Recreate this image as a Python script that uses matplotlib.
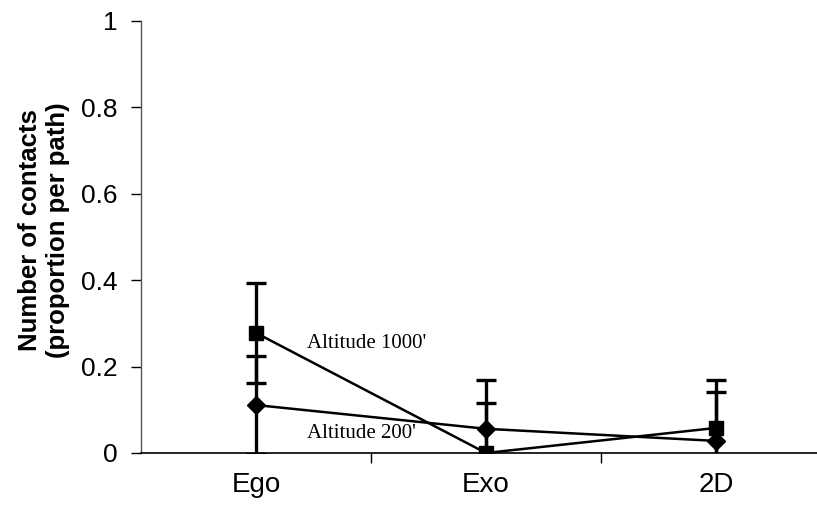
import matplotlib
matplotlib.use("Agg")
import matplotlib.pyplot as plt
from matplotlib.ticker import FixedLocator, FuncFormatter

plt.rcParams["font.family"] = ["Liberation Sans", "DejaVu Sans"]

categories = ["Ego", "Exo", "2D"]
alt1000 = [0.278, 0.0, 0.058]
alt1000_err = [0.115, 0.116, 0.111]
alt200 = [0.111, 0.056, 0.028]
alt200_err = [0.113, 0.113, 0.113]
yticks = [0, 0.2, 0.4, 0.6, 0.8, 1.0]

fig = plt.figure(figsize=(8.17, 5.21), dpi=100)
ax = fig.add_axes([141/817, 68/521, 690/817, 432/521])
x = list(range(len(categories)))

ax.errorbar(x, alt1000, yerr=alt1000_err, color="black", lw=1.8, elinewidth=2.4,
            capsize=7, capthick=2.4, marker="s", ms=9.5, zorder=3, clip_on=True)
ax.errorbar(x, alt200, yerr=alt200_err, color="black", lw=1.8, elinewidth=2.4,
            capsize=7, capthick=2.4, marker="D", ms=9, zorder=3, clip_on=True)

ax.set_xlim(-0.5, 2.5)
ax.set_ylim(0, 1)
ax.spines["top"].set_visible(False)
ax.spines["right"].set_visible(False)
ax.spines["left"].set_color("#555555")
ax.spines["left"].set_linewidth(1.0)
ax.spines["bottom"].set_linewidth(1.2)

ax.yaxis.set_major_locator(FixedLocator(yticks))
ax.yaxis.set_major_formatter(FuncFormatter(lambda v, p: f"{v:g}"))
ax.tick_params(axis="y", direction="out", length=7, width=1, pad=10,
               labelsize=19)

ax.set_xticks(x)
ax.set_xticklabels(categories, fontsize=20)
ax.tick_params(axis="x", which="major", length=0, pad=14)
ax.set_xticks([0.5, 1.5], minor=True)
ax.tick_params(axis="x", which="minor", direction="out", length=7, width=1)

ax.set_ylabel("Number of contacts\n(proportion per path)", fontsize=18.5,
              fontweight="bold", linespacing=1.2)
ax.yaxis.set_label_coords(-0.103, 0.515)

ax.text(307/817, 1 - 343/521, "Altitude 1000'", transform=fig.transFigure,
        family="Liberation Serif", fontsize=15, va="center", ha="left")
ax.text(307/817, 1 - 433/521, "Altitude 200'", transform=fig.transFigure,
        family="Liberation Serif", fontsize=15, va="center", ha="left")

fig.savefig("out.png", dpi=100)
